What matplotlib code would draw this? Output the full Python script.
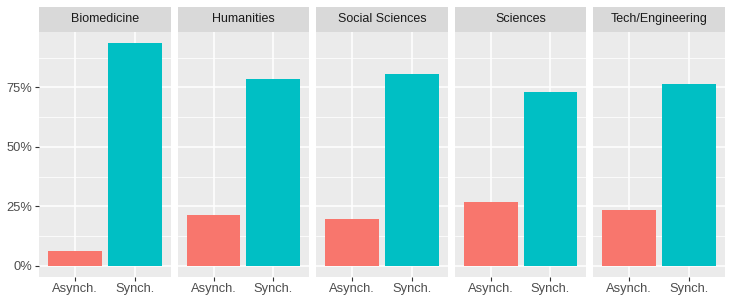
import matplotlib
matplotlib.use("Agg")
from matplotlib import pyplot as plt
from matplotlib.ticker import FixedLocator, PercentFormatter
import numpy as np

fields = ["Biomedicine", "Humanities", "Social Sciences", "Sciences", "Tech/Engineering"]
modes = ["Asynch.", "Synch."]
asynch = [6.2, 21.4, 19.5, 26.9, 23.6]
synch = [93.8, 78.6, 80.5, 73.1, 76.4]
colors = ["#F8766D", "#00BFC4"]

plt.rcParams["font.family"] = ["Liberation Sans", "DejaVu Sans"]

W, H = 732, 303
fig = plt.figure(figsize=(W / 100, H / 100), dpi=100)

left, right = 39.3, 724.7
gap = 7.2
pw = (right - left - 4 * gap) / 5
top_panel, bottom_panel = 31.7, 276.7
strip_top = 6.7

ymax = max(max(asynch), max(synch))
pad = ymax * 0.05

for i, field in enumerate(fields):
    x0 = left + i * (pw + gap)
    ax = fig.add_axes([x0 / W, 1 - bottom_panel / H, pw / W, (bottom_panel - top_panel) / H])
    ax.set_facecolor("#EBEBEB")
    for s in ax.spines.values():
        s.set_visible(False)

    vals = [asynch[i], synch[i]]
    ax.bar([1, 2], vals, width=0.9, color=colors, zorder=3)

    ax.set_xlim(0.4, 2.6)
    ax.set_ylim(-pad, ymax + pad)
    ax.set_xticks([1, 2])
    ax.set_xticklabels(modes)
    ax.yaxis.set_major_locator(FixedLocator([0, 25, 50, 75]))
    ax.yaxis.set_minor_locator(FixedLocator([12.5, 37.5, 62.5, 87.5]))
    ax.yaxis.set_major_formatter(PercentFormatter(decimals=0))

    ax.grid(True, which="major", color="white", linewidth=1.1, zorder=0)
    ax.grid(True, which="minor", axis="y", color="white", linewidth=0.55, zorder=0)
    ax.set_axisbelow(True)

    ax.tick_params(which="major", length=2.8, width=0.8, color="#333333",
                   labelcolor="#4D4D4D", labelsize=9.3, pad=2)
    ax.tick_params(which="minor", length=0)
    if i > 0:
        ax.tick_params(axis="y", which="both", left=False, labelleft=False)

    # facet strip
    sax = fig.add_axes([x0 / W, 1 - top_panel / H, pw / W, (top_panel - strip_top) / H])
    sax.set_facecolor("#D9D9D9")
    sax.set_xticks([])
    sax.set_yticks([])
    for s in sax.spines.values():
        s.set_visible(False)
    sax.text(0.5, 0.5, field, ha="center", va="center", fontsize=9,
             color="#1A1A1A", transform=sax.transAxes)

fig.savefig("out.png", dpi=100)
